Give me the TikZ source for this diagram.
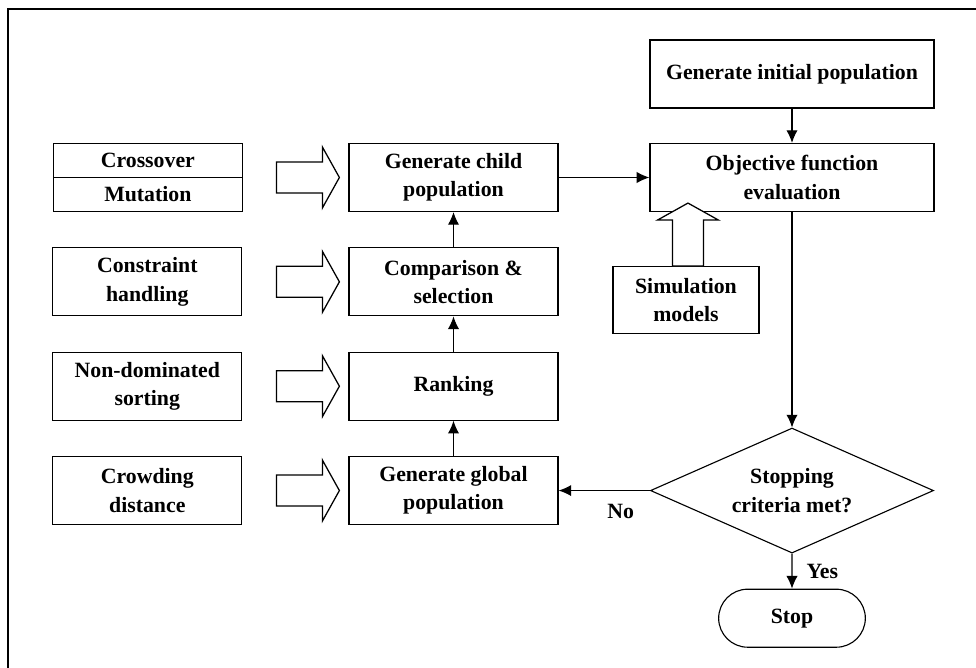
\documentclass[tikz,border=0pt]{standalone}
\usepackage{fontspec}
\setmainfont{Liberation Serif}
\usepackage{tikz}
\usetikzlibrary{shapes.geometric, shapes.misc, arrows.meta, positioning}

\tikzset{
    fatarrow/.pic={
        \draw[line width=0.9pt, fill=white] (0,-15.5) -- (46,-15.5) -- (46,-30.5) -- (63,0)
            -- (46,30.5) -- (46,15.5) -- (0,15.5) -- cycle;
    }
}

\begin{document}
\begin{tikzpicture}[
    x=0.025cm, y=-0.025cm,
    node distance=0.88cm and 2.65cm,
    every node/.style={font=\fontsize{15.5}{20}\selectfont\bfseries},
    process/.style={rectangle, draw, line width=0.8pt, minimum width=5.225cm, minimum height=1.7cm, align=center, inner sep=2pt},
    opbox/.style={rectangle, draw, line width=0.8pt, minimum width=4.725cm, minimum height=1.7cm, align=center, inner sep=2pt},
    half/.style={minimum height=0.85cm, outer sep=0pt},
    wide/.style={minimum width=7.1cm},
    decision/.style={diamond, aspect=2.26, draw, line width=0.8pt, minimum width=7.075cm, minimum height=3.125cm, inner sep=0pt, align=center},
    terminal/.style={rounded rectangle, draw, line width=0.8pt, minimum width=3.9cm, minimum height=1.45cm},
    lbl/.style={inner sep=1pt},
    arrow/.style={-{Latex[length=9pt, width=8pt]}, line width=0.8pt},
    frame/.style={draw, line width=1.5pt}
]
    \useasboundingbox (0,0) rectangle (976,668);
    \draw[frame] (8,9) rectangle (990,690);

    % Main loop (middle column)
    \node[process] (child) at (453.5,177.5) {Generate child\\population};
    \node[process, below=of child] (select) {Comparison \&\\selection};
    \node[process, below=of select] (rank) {Ranking};
    \node[process, below=of rank] (global) {Generate global\\population};

    % Operators (left column)
    \node[opbox, half, above left=0pt and 2.65cm of child.west] (cross) {Crossover};
    \node[opbox, half, below=0pt of cross] (mut) {Mutation};
    \node[opbox, left=of select] (constr) {Constraint\\handling};
    \node[opbox, left=of rank] (nds) {Non-dominated\\sorting};
    \node[opbox, left=of global] (crowd) {Crowding\\distance};

    % Evaluation (right column)
    \node[process, wide] (init) at (792,74) {Generate initial population};
    \node[process, wide] (obj) at (792,177.5) {Objective function\\evaluation};
    \node[process, minimum width=3.65cm, minimum height=1.675cm, below=1.35cm of obj, xshift=-2.65cm] (sim) {Simulation\\models};
    \node[decision] (crit) at (obj |- global) {Stopping\\criteria met?};
    \node[terminal, below=0.875cm of crit] (stop) {Stop};

    % Hollow arrows
    \pic at ([xshift=0.85cm]mut.north east) {fatarrow};
    \pic at ([xshift=0.85cm]constr.east) {fatarrow};
    \pic at ([xshift=0.85cm]nds.east) {fatarrow};
    \pic at ([xshift=0.85cm]crowd.east) {fatarrow};
    \pic[rotate=90] at ([xshift=0.05cm]sim.north) {fatarrow};

    % Arrows - main flow
    \draw[arrow] (init) -- (obj);
    \draw[arrow] (child) -- (obj);
    \draw[arrow] (obj) -- (crit);
    \draw[arrow] (crit) -- node[lbl, pos=0.32, below=8pt] (no) {No} (global);
    \draw[arrow] (crit) -- node[lbl, pos=0.5, right=9pt] (yes) {Yes} (stop);
    \draw[arrow] (global) -- (rank);
    \draw[arrow] (rank) -- (select);
    \draw[arrow] (select) -- (child);

\end{tikzpicture}
\end{document}
